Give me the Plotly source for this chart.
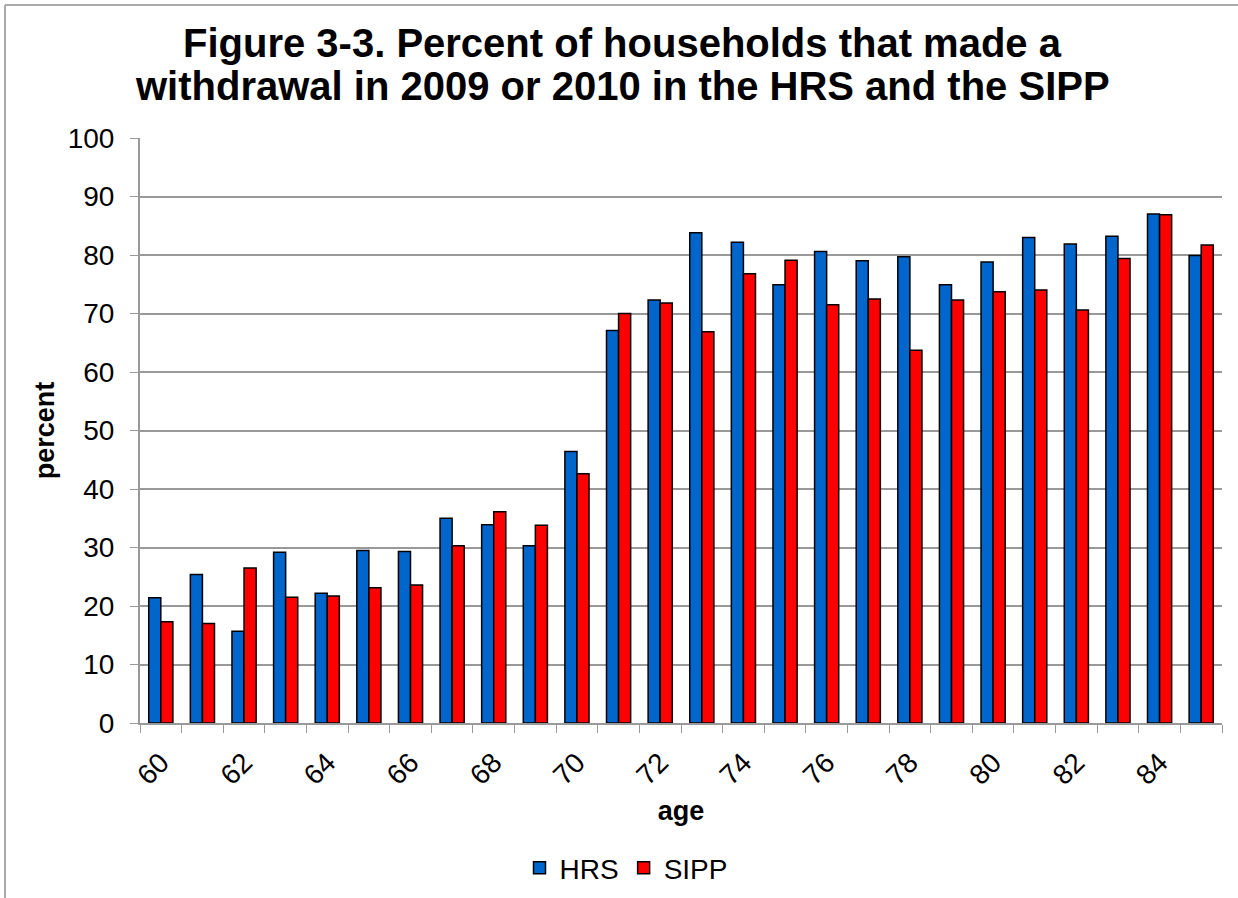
import plotly.graph_objects as go

ages = [str(a) for a in range(60, 86)]
hrs = [21.4, 25.4, 15.7, 29.2, 22.2, 29.5, 29.3, 35.0, 33.9, 30.3,
       46.4, 67.1, 72.3, 83.8, 82.2, 74.9, 80.6, 79.0, 79.7, 74.9,
       78.8, 83.0, 81.9, 83.2, 87.0, 79.9]
sipp = [17.3, 17.0, 26.5, 21.5, 21.7, 23.1, 23.6, 30.3, 36.1, 33.8,
        42.6, 70.0, 71.8, 66.9, 76.8, 79.1, 71.5, 72.5, 63.7, 72.3,
        73.7, 74.0, 70.6, 79.4, 86.9, 81.7]
tick_text = [a if int(a) % 2 == 0 else "" for a in ages]
title_lines = ["Figure 3-3. Percent of households that made a",
               "withdrawal in 2009 or 2010 in the HRS and the SIPP"]

FONT = "Liberation Sans, Arial, sans-serif"

fig = go.Figure()
fig.add_trace(go.Bar(x=ages, y=hrs, name="HRS",
                     marker=dict(color="#0066CC", line=dict(color="#000000", width=1.5))))
fig.add_trace(go.Bar(x=ages, y=sipp, name="SIPP",
                     marker=dict(color="#FF0000", line=dict(color="#000000", width=1.5))))

L, R, T, B = 140, 16, 138, 175
W, H = 1238, 898
pw, ph = W - L - R, H - T - B

fig.update_layout(
    width=W, height=H,
    margin=dict(l=L, r=R, t=T, b=B, autoexpand=False),
    paper_bgcolor="white", plot_bgcolor="white",
    font=dict(family=FONT, color="black", size=28),
    barmode="group", bargap=0.42, bargroupgap=0,
    legend=dict(orientation="h", x=(626 - L) / pw, xanchor="center", y=-0.205, yanchor="top",
                font=dict(size=28), itemwidth=30, traceorder="normal"),
    showlegend=True,
)
for i, (line, yc) in enumerate(zip(title_lines, [43, 86])):
    fig.add_annotation(text="<b>" + line + "</b>", xref="paper", yref="paper",
                       x=(622 - L) / pw, y=(H - B - yc) / ph, xanchor="center",
                       yanchor="middle", showarrow=False, font=dict(size=40, family=FONT))

fig.update_xaxes(
    type="category", tickmode="array", tickvals=ages, ticktext=tick_text,
    tickangle=-45, tickson="boundaries", ticks="outside", ticklen=8,
    tickcolor="#999999", showline=True, linecolor="#999999", linewidth=2,
    showgrid=False, tickfont=dict(size=28), ticklabelstandoff=10, automargin=False,
    title=dict(text="<b>age</b>", font=dict(size=27), standoff=11),
)
fig.update_yaxes(
    range=[0, 100], dtick=10, ticks="outside", ticklen=8, tickcolor="#999999",
    showline=True, linecolor="#999999", linewidth=2,
    showgrid=True, gridcolor="#999999", gridwidth=1.5,
    tickfont=dict(size=28), zeroline=False, ticklabelstandoff=10, automargin=False,
    title=dict(text="<b>percent</b>", font=dict(size=27), standoff=5),
)

# outer chart border (left and top edges visible in the reference)
x0 = (5 - L) / pw
y0 = (H - B - 5) / ph
fig.add_shape(type="line", xref="paper", yref="paper", x0=x0, x1=(W + 10 - L) / pw,
              y0=y0, y1=y0, line=dict(color="#aaaaaa", width=2))
fig.add_shape(type="line", xref="paper", yref="paper", x0=x0, x1=x0,
              y0=y0, y1=-(B + 10) / ph, line=dict(color="#aaaaaa", width=2))

fig.write_html("out.html")
